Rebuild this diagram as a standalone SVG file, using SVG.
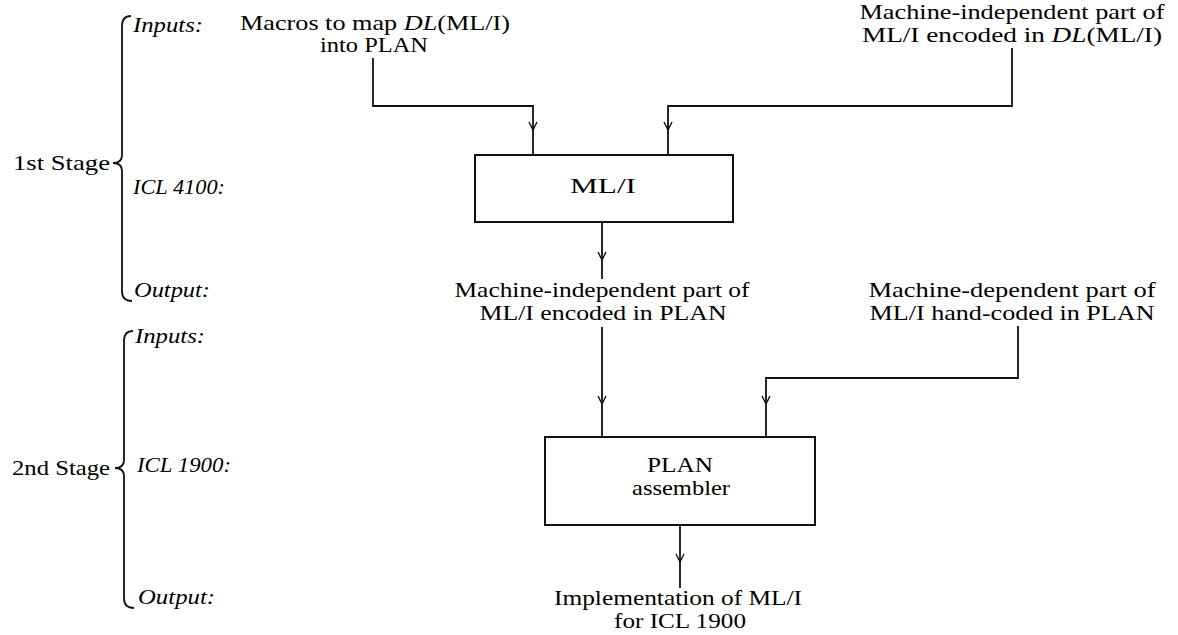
<svg xmlns="http://www.w3.org/2000/svg" width="1178" height="635" viewBox="0 0 1178 635">
<style>
  .t { font-family: "Liberation Serif", "Times New Roman", serif; font-size: 21px; fill: #000; }
  .c { text-anchor: middle; }
  .lab { font-family: "Liberation Serif", "Times New Roman", serif; font-size: 20px; font-style: italic; fill: #000; }
  .it { font-style: italic; }
  .ln { fill: none; stroke: #111; stroke-width: 1.8; }
  .box { fill: #fff; stroke: #111; stroke-width: 2; }
</style>
<defs>
  <marker id="arr" viewBox="-10 -6 12 12" refX="0" refY="0" markerWidth="12" markerHeight="12" orient="auto" markerUnits="userSpaceOnUse">
    <path d="M-8,-4 L0,0 L-8,4" fill="none" stroke="#111" stroke-width="1.4"/>
  </marker>
</defs>

<g id="stage1">
  <path class="ln" d="M131,16 Q122,16 122,26 L122,155 Q122,163 113,163 Q122,163 122,171 L122,291 Q122,301 132,301"/>
  <text class="t" x="13" y="170" textLength="97" lengthAdjust="spacingAndGlyphs">1st  Stage</text>
  <text class="lab" x="133" y="32" textLength="70" lengthAdjust="spacingAndGlyphs">Inputs:</text>
  <text class="lab" x="133" y="194" textLength="92" lengthAdjust="spacingAndGlyphs">ICL 4100:</text>
  <text class="lab" x="134" y="297" textLength="76" lengthAdjust="spacingAndGlyphs">Output:</text>
</g>

<g id="stage2">
  <path class="ln" d="M133,331 Q124,331 124,341 L124,460 Q124,468 115,468 Q124,468 124,476 L124,598 Q124,608 134,608"/>
  <text class="t" x="12" y="475" textLength="98" lengthAdjust="spacingAndGlyphs">2nd Stage</text>
  <text class="lab" x="135" y="343" textLength="70" lengthAdjust="spacingAndGlyphs">Inputs:</text>
  <text class="lab" x="137" y="472" textLength="94" lengthAdjust="spacingAndGlyphs">ICL 1900:</text>
  <text class="lab" x="138" y="604" textLength="77" lengthAdjust="spacingAndGlyphs">Output:</text>
</g>

<g id="in-macros">
  <text class="t c" x="375" y="30" textLength="270" lengthAdjust="spacingAndGlyphs">Macros to map <tspan class="it">DL</tspan>(ML/I)</text>
  <text class="t c" x="374" y="52" textLength="108" lengthAdjust="spacingAndGlyphs">into PLAN</text>
</g>

<g id="in-mi-dl">
  <text class="t c" x="1012" y="19" textLength="305" lengthAdjust="spacingAndGlyphs">Machine-independent part of</text>
  <text class="t c" x="1012" y="42" textLength="300" lengthAdjust="spacingAndGlyphs">ML/I encoded in <tspan class="it">DL</tspan>(ML/I)</text>
</g>

<g id="mli-box">
  <rect class="box" x="475" y="155" width="258" height="67"/>
  <text class="t c" x="603" y="193" textLength="66" lengthAdjust="spacingAndGlyphs">ML/I</text>
</g>

<g id="out-mi-plan">
  <text class="t c" x="602" y="297" textLength="295" lengthAdjust="spacingAndGlyphs">Machine-independent part of</text>
  <text class="t c" x="603" y="320" textLength="247" lengthAdjust="spacingAndGlyphs">ML/I encoded in PLAN</text>
</g>

<g id="in-md-plan">
  <text class="t c" x="1012" y="297" textLength="287" lengthAdjust="spacingAndGlyphs">Machine-dependent part of</text>
  <text class="t c" x="1012" y="320" textLength="285" lengthAdjust="spacingAndGlyphs">ML/I hand-coded in PLAN</text>
</g>

<g id="plan-box">
  <rect class="box" x="545" y="437" width="270" height="88"/>
  <text class="t c" x="680" y="472" textLength="66" lengthAdjust="spacingAndGlyphs">PLAN</text>
  <text class="t c" x="681" y="495" textLength="98" lengthAdjust="spacingAndGlyphs">assembler</text>
</g>

<g id="out-impl">
  <text class="t c" x="678" y="605" textLength="248" lengthAdjust="spacingAndGlyphs">Implementation of ML/I</text>
  <text class="t c" x="680" y="628" textLength="132" lengthAdjust="spacingAndGlyphs">for ICL 1900</text>
</g>

<g id="connectors">
  <path class="ln" d="M373,58 V106 H533 V130" marker-end="url(#arr)"/>
  <path class="ln" d="M533,130 V155"/>
  <path class="ln" d="M1012,48 V106 H668 V130" marker-end="url(#arr)"/>
  <path class="ln" d="M668,130 V155"/>
  <path class="ln" d="M602,222 V260" marker-end="url(#arr)"/>
  <path class="ln" d="M602,260 V279"/>
  <path class="ln" d="M602,327 V404" marker-end="url(#arr)"/>
  <path class="ln" d="M602,404 V437"/>
  <path class="ln" d="M1018,326 V378 H766 V404" marker-end="url(#arr)"/>
  <path class="ln" d="M766,404 V437"/>
  <path class="ln" d="M680,525 V562" marker-end="url(#arr)"/>
  <path class="ln" d="M680,562 V588"/>
</g>
</svg>
